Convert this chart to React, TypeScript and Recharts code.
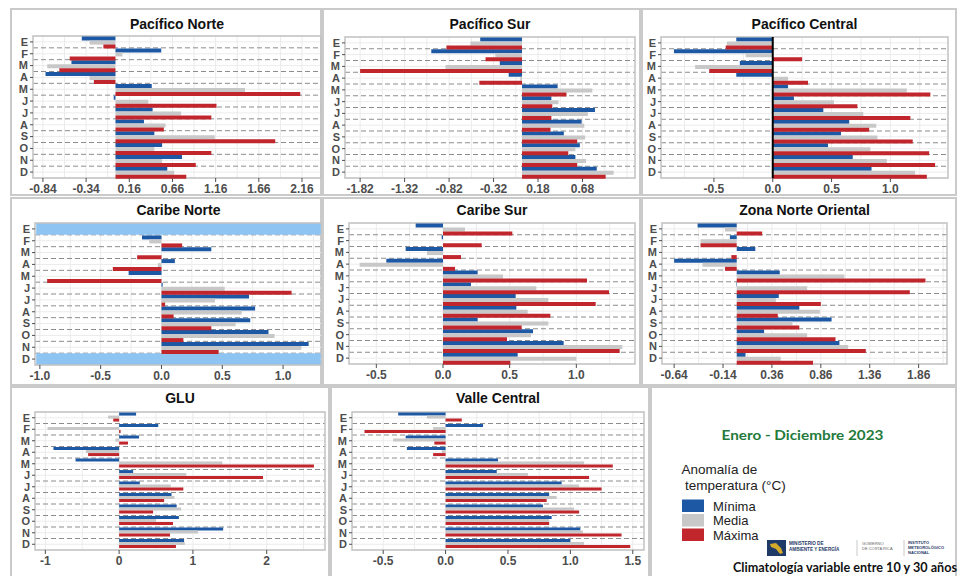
import React from "react";
import { BarChart, Bar, XAxis, YAxis, CartesianGrid, ReferenceArea, ReferenceLine } from "recharts";

const MONTHS = ["E", "F", "M", "A", "M", "J", "J", "A", "S", "O", "N", "D"];

// Pacífico Norte
const PN_MIN = [-0.39, 0.53, -0.51, -0.81, 0.42, -0.02, 0.43, 0.33, 0.45, 0.54, 0.77, 0.6];
const PN_MED = [-0.3, 0.08, -0.79, -0.3, 1.5, 0.38, 0.76, 0.58, 1.15, 0.45, 0.54, 0.68];
const PN_MAX = [-0.14, -0.53, -0.65, -0.25, 2.14, 1.17, 1.11, 0.56, 1.85, 1.11, 0.93, 0.82];
const PN_TICKS = [-0.84, -0.34, 0.16, 0.66, 1.16, 1.66, 2.16];

// Pacífico Sur
const PS_MIN = [-0.47, -1.02, -0.25, -0.15, 0.4, 0.33, 0.82, 0.67, 0.47, 0.65, 0.6, 0.84];
const PS_MED = [-0.58, -0.3, -0.86, -0.02, 0.79, 0.41, 0.74, 0.7, 0.71, 0.6, 0.72, 1.03];
const PS_MAX = [-0.85, -0.41, -1.82, -0.48, 0.5, 0.34, 0.33, 0.32, 0.62, 0.52, 0.62, 0.94];
const PS_TICKS = [-1.82, -1.32, -0.82, -0.32, 0.18, 0.68];

// Pacífico Central
const PC_MIN = [-0.31, -0.84, -0.28, -0.31, 0.13, 0.18, 0.43, 0.65, 0.58, 0.47, 0.68, 0.84];
const PC_MED = [-0.39, -0.23, -0.66, 0.13, 1.14, 0.52, 0.77, 0.88, 0.89, 0.83, 0.97, 1.21];
const PC_MAX = [-0.4, 0.25, -0.54, 0.3, 1.34, 0.72, 1.17, 0.82, 1.19, 1.33, 1.38, 1.31];
const PC_TICKS = [-0.5, 0, 0.5, 1];

// Caribe Norte (E y D sin datos)
const CN_MIN = [null, -0.16, 0.41, 0.11, -0.27, 0.01, 0.72, 0.77, 0.73, 0.88, 1.21, null];
const CN_MED = [null, -0.1, 0, -0.03, null, 0.52, 0.44, 0.66, 0.61, 0.93, 1.15, null];
const CN_MAX = [null, 0.17, -0.2, -0.4, -0.94, 1.07, 0.03, 0.1, 0.41, 0.18, 0.47, null];
const CN_TICKS = [-1, -0.5, 0, 0.5, 1];
const CN_MISSING = [0, 11];

// Caribe Sur
const CS_MIN = [-0.205, -0.01, -0.28, -0.425, 0.26, 0.21, 0.545, 0.55, 0.26, 0.675, 0.905, 0.56];
const CS_MED = [0.165, 0, -0.12, -0.625, 0.45, 0.7, 0.79, 0.635, 0.79, 0.66, 1.345, 1.0];
const CS_MAX = [0.52, 0.29, 0.135, 0.09, 1.08, 1.245, 1.145, 0.805, 0.59, 0.48, 1.325, 0.505];
const CS_TICKS = [-0.5, 0, 0.5, 1];

// Zona Norte Oriental
const ZNO_MIN = [-0.4, -0.07, 0.19, -0.64, 0.44, -0.005, 0.43, 0.64, 0.97, 0.28, 1.05, 0.09];
const ZNO_MED = [-0.12, -0.37, 0, -0.35, 1.1, 0.72, 0.4, 0.85, 0.57, 0.72, 1.14, 0.45];
const ZNO_MAX = [0.26, -0.37, -0.055, -0.12, 1.93, 1.77, 0.86, 0.42, 0.64, 1.01, 1.32, 0.78];
const ZNO_TICKS = [-0.64, -0.14, 0.36, 0.86, 1.36, 1.86];

// GLU
const GLU_MIN = [0.23, 0.53, 0.27, -0.89, -0.59, 0.19, 0.28, 0.71, 0.78, 0.81, 1.41, 0.88];
const GLU_MED = [-0.15, -0.97, -0.05, -0.45, 1.4, 0.91, 0.7, 0.75, 0.84, 0.5, 1.07, 0.89];
const GLU_MAX = [-0.08, 0.02, 0.12, -0.42, 2.64, 1.95, 0.87, 0.61, 0.46, 0.73, 0.69, 0.77];
const GLU_TICKS = [-1, 0, 1, 2];

// Valle Central
const VC_MIN = [-0.38, 0.3, -0.32, -0.31, 0.42, 0.41, 0.93, 0.83, 0.78, 0.85, 1.08, 1.0];
const VC_MED = [-0.15, -0.1, -0.42, -0.03, 1.11, 0.66, 1.07, 0.89, 1.03, 0.83, 1.1, 1.11];
const VC_MAX = [0.13, -0.65, -0.09, -0.1, 1.34, 1.15, 1.25, 0.81, 1.07, 0.83, 1.41, 1.48];
const VC_TICKS = [-0.5, 0, 0.5, 1, 1.5];

const BLUE = "#1c58a4";
const GRAY = "#c8c8c8";
const RED = "#c0262c";
const MISSING_FILL = "#8ec4f2";
const FONT = '"Liberation Sans", Arial, Helvetica, sans-serif';

type PanelCfg = {
  title: string;
  min: (number | null)[];
  med: (number | null)[];
  max: (number | null)[];
  ticks: number[];
  domain: [number, number];
  digits: number;
  box: [number, number, number, number];
  plot: [number, number, number, number];
  titleY: number;
  zero?: boolean;
  missing?: number[];
};

const PANELS: PanelCfg[] = [
  { title: "Pacífico Norte", min: PN_MIN, med: PN_MED, max: PN_MAX, ticks: PN_TICKS, domain: [-0.955, 2.38], digits: 2, box: [10, 8, 312, 188], plot: [33, 36, 321, 178], titleY: 23.5 },
  { title: "Pacífico Sur", min: PS_MIN, med: PS_MED, max: PS_MAX, ticks: PS_TICKS, domain: [-1.99, 1.27], digits: 2, box: [322, 8, 319, 188], plot: [345, 37, 635, 178], titleY: 23.5 },
  { title: "Pacífico Central", min: PC_MIN, med: PC_MED, max: PC_MAX, ticks: PC_TICKS, domain: [-0.95, 1.49], digits: 1, box: [641, 8, 316, 188], plot: [661, 37, 948, 178], titleY: 23.5, zero: true },
  { title: "Caribe Norte", min: CN_MIN, med: CN_MED, max: CN_MAX, ticks: CN_TICKS, domain: [-1.04, 1.32], digits: 1, box: [10, 197, 312, 189], plot: [35, 223, 322, 365], titleY: 210, missing: CN_MISSING },
  { title: "Caribe Sur", min: CS_MIN, med: CS_MED, max: CS_MAX, ticks: CS_TICKS, domain: [-0.705, 1.44], digits: 1, box: [322, 197, 319, 189], plot: [349, 223, 635, 364], titleY: 210 },
  { title: "Zona Norte Oriental", min: ZNO_MIN, med: ZNO_MED, max: ZNO_MAX, ticks: ZNO_TICKS, domain: [-0.764, 2.15], digits: 2, box: [641, 197, 316, 189], plot: [662, 223, 947, 364], titleY: 210 },
  { title: "GLU", min: GLU_MIN, med: GLU_MED, max: GLU_MAX, ticks: GLU_TICKS, domain: [-1.14, 2.79], digits: 0, box: [10, 386, 320, 192], plot: [35, 412, 325, 550], titleY: 398 },
  { title: "Valle Central", min: VC_MIN, med: VC_MED, max: VC_MAX, ticks: VC_TICKS, domain: [-0.75, 1.59], digits: 1, box: [330, 386, 320, 192], plot: [352, 412, 644, 550], titleY: 398 },
];

// numeric position through the axis scale, with a fallback if the scale is not exposed
function axisPx(axis: any, v: number, fallback: number) {
  const s = axis && axis.scale;
  let r: any;
  if (typeof s === "function") r = s(v);
  else if (s && typeof s.map === "function") r = s.map(v);
  return typeof r === "number" && Number.isFinite(r) ? r : fallback;
}

function Panel({ cfg }: { cfg: PanelCfg }) {
  const { title, min, med, max, ticks, domain, digits, box, plot, titleY, zero, missing = [] } = cfg;
  const [bx, by, bw, bh] = box;
  const [x0, y0, x1, y1] = plot;
  const YW = 16;
  const XH = 18;
  const data = MONTHS.map((m, i) => ({ k: String(i), min: min[i], med: med[i], max: max[i] }));

  // major + minor vertical grid values
  const step = ticks[1] - ticks[0];
  const gridVals: number[] = [];
  for (let i = -2; i <= (ticks.length - 1) * 2 + 2; i++) {
    const v = ticks[0] + (i * step) / 2;
    if (v > domain[0] && v < domain[1]) gridVals.push(v);
  }
  const vGen = ({ xAxis, offset }: any) =>
    gridVals.map((v) => axisPx(xAxis, v, offset.left + ((v - domain[0]) / (domain[1] - domain[0])) * offset.width));
  // dashed separators between months (band boundaries)
  const hGen = ({ offset }: any) =>
    MONTHS.slice(1).map((_, j) => offset.top + ((j + 1) * offset.height) / MONTHS.length);

  const tickStyle = { fontSize: 12, fontWeight: 700, fill: "#4d4d4d", fontFamily: FONT };

  return (
    <>
      <div
        style={{
          position: "absolute", left: bx, top: by, width: bw, height: bh,
          border: "2px solid #cacaca", boxSizing: "border-box",
        }}
      />
      <div
        style={{
          position: "absolute", left: x0, top: titleY - 9, width: x1 - x0, height: 18,
          lineHeight: "18px", textAlign: "center", fontSize: 14, fontWeight: 700,
          fontFamily: FONT, color: "#111",
        }}
      >
        {title}
      </div>
      <div style={{ position: "absolute", left: bx, top: by }}>
        <BarChart
          width={bw}
          height={bh}
          data={data}
          layout="vertical"
          margin={{ top: y0 - by, right: bx + bw - x1, bottom: by + bh - y1 - XH, left: x0 - bx - YW }}
          barCategoryGap="5%"
          barGap={0}
        >
          <CartesianGrid stroke="#ebebeb" verticalCoordinatesGenerator={vGen} />
          <CartesianGrid stroke="#8c8c8c" strokeDasharray="5 3" vertical={false} horizontalCoordinatesGenerator={hGen} />
          <XAxis
            type="number"
            domain={domain}
            ticks={ticks}
            allowDataOverflow
            interval={0}
            height={XH}
            axisLine={false}
            tickSize={4}
            tickLine={{ stroke: "#4d4d4d" }}
            tick={tickStyle}
            tickFormatter={(v: number) => Number(v).toFixed(digits)}
          />
          <YAxis
            type="category"
            dataKey="k"
            width={YW}
            interval={0}
            axisLine={false}
            tickSize={3}
            tickLine={{ stroke: "#4d4d4d" }}
            tick={{ ...tickStyle, fontSize: 11 }}
            tickFormatter={(v: string) => MONTHS[Number(v)]}
          />
          {missing.map((i) => (
            <ReferenceArea
              key={i}
              y1={String(i)}
              y2={String(i)}
              x1={domain[0] + 0.01}
              x2={domain[1] - 0.01}
              fill={MISSING_FILL}
              fillOpacity={1}
              stroke="none"
              ifOverflow="visible"
            />
          ))}
          <Bar dataKey="min" fill={BLUE} isAnimationActive={false} />
          <Bar dataKey="med" fill={GRAY} isAnimationActive={false} />
          <Bar dataKey="max" fill={RED} isAnimationActive={false} />
          {zero && <ReferenceLine x={0} stroke="#000" strokeWidth={2} />}
          <ReferenceArea
            x1={domain[0]}
            x2={domain[1]}
            fill="none"
            fillOpacity={0}
            stroke="#c2c2c2"
            strokeWidth={1.5}
            ifOverflow="visible"
          />
        </BarChart>
      </div>
    </>
  );
}

function LegendBox() {
  const navy = "#1f3a66";
  return (
    <>
      <div
        style={{
          position: "absolute", left: 650, top: 386, width: 307, height: 192,
          border: "2px solid #cacaca", boxSizing: "border-box",
        }}
      />
      <svg width={312} height={190} style={{ position: "absolute", left: 650, top: 386 }}>
        <text
          x={152.5}
          y={53.5}
          textAnchor="middle"
          textLength={162}
          lengthAdjust="spacingAndGlyphs"
          fontFamily='Lato, "Open Sans", sans-serif'
          fontWeight={700}
          fontSize={14}
          fill="#237a3b"
        >
          Enero - Diciembre 2023
        </text>
        <text x={31.5} y={88} fontFamily={FONT} fontSize={13.5} fill="#222">
          Anomalía de
        </text>
        <text x={35} y={103.5} fontFamily={FONT} fontSize={13.5} fill="#222">
          temperatura (°C)
        </text>
        <rect x={32} y={113.5} width={22} height={12.5} fill={BLUE} />
        <rect x={32} y={128} width={22} height={12.5} fill={GRAY} />
        <rect x={32} y={142.5} width={22} height={12.5} fill={RED} />
        <text x={63} y={124.5} fontFamily={FONT} fontSize={13} fill="#222">Mínima</text>
        <text x={63} y={139} fontFamily={FONT} fontSize={13} fill="#222">Media</text>
        <text x={63} y={153.5} fontFamily={FONT} fontSize={13} fill="#222">Máxima</text>

        <rect x={117} y={154} width={19} height={16} fill={navy} />
        <path d="M120 158 L126 157 L131 162 L133 167 L130 168 L126 163 L121 161 Z" fill="#d4a929" />
        <text x={139} y={159} fontFamily={FONT} fontSize={4.6} fontWeight={700} fill={navy}>MINISTERIO DE</text>
        <text x={139} y={164.5} fontFamily={FONT} fontSize={4.6} fontWeight={700} fill={navy}>AMBIENTE Y ENERGÍA</text>
        <line x1={207} y1={154} x2={207} y2={170} stroke="#bbb" strokeWidth={0.8} />
        <text x={212} y={159} fontFamily={FONT} fontSize={4} fill="#666">GOBIERNO</text>
        <text x={212} y={164} fontFamily={FONT} fontSize={4} fill="#666">DE COSTA RICA</text>
        <line x1={254} y1={154} x2={254} y2={170} stroke="#bbb" strokeWidth={0.8} />
        <text x={258} y={157.5} fontFamily={FONT} fontSize={4} fontWeight={700} fill={navy}>INSTITUTO</text>
        <text x={258} y={162.5} fontFamily={FONT} fontSize={4} fontWeight={700} fill={navy}>METEOROLÓGICO</text>
        <text x={258} y={167.5} fontFamily={FONT} fontSize={4} fontWeight={700} fill={navy}>NACIONAL</text>

        <text
          x={83}
          y={186}
          textLength={224}
          lengthAdjust="spacingAndGlyphs"
          fontFamily='Lato, "Open Sans", sans-serif'
          fontWeight={700}
          fontSize={12.5}
          fill="#111"
        >
          Climatología variable entre 10 y 30 años
        </text>
      </svg>
    </>
  );
}

export default function App() {
  return (
    <div
      style={{
        position: "absolute", left: 0, top: 0, width: 962, height: 576,
        background: "#fff", overflow: "hidden", fontFamily: FONT,
      }}
    >
      {PANELS.map((p) => (
        <Panel key={p.title} cfg={p} />
      ))}
      <LegendBox />
    </div>
  );
}
